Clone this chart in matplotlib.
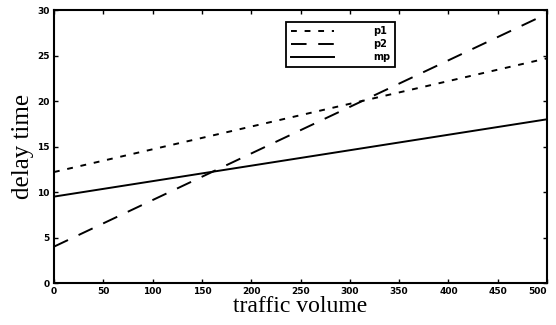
import matplotlib.pyplot as plt

# traffic volume vs delay time, three strategies
volume = [0, 500]
p1 = [12.2, 24.7]
p2 = [4.0, 29.6]
mp = [9.5, 18.0]

xticks = [0, 50, 100, 150, 200, 250, 300, 350, 400, 450, 500]
yticks = [0, 5, 10, 15, 20, 25, 30]

fig = plt.figure(figsize=(5.56, 3.25), dpi=100)
ax = fig.add_axes([0.097, 0.129, 0.887, 0.84])

ax.plot(volume, p1, color='black', lw=1.4, linestyle=(0, (3, 4)), label='p1')
ax.plot(volume, p2, color='black', lw=1.4, linestyle=(0, (8, 6)), label='p2')
ax.plot(volume, mp, color='black', lw=1.4, label='mp')

ax.set_xlim(0, 500)
ax.set_ylim(0, 30)
ax.set_xticks(xticks)
ax.set_yticks(yticks)
ax.tick_params(direction='in', top=True, right=True, length=3, width=1,
               labelsize=6.5, pad=3)
ax.get_xticklabels()[-1].set_horizontalalignment('right')
for lab in ax.get_xticklabels() + ax.get_yticklabels():
    lab.set_fontweight('bold')
for s in ax.spines.values():
    s.set_linewidth(1.5)

ax.set_xlabel('traffic volume', family='Liberation Serif', fontsize=17, labelpad=0)
ax.set_ylabel('delay time', family='Liberation Serif', fontsize=18, labelpad=2)

leg = ax.legend(loc='upper left', bbox_to_anchor=(0.47, 0.958), borderaxespad=0,
                fancybox=False, edgecolor='black', framealpha=1,
                handlelength=4.5, handletextpad=4, borderpad=0.5,
                labelspacing=0.3, prop={'weight': 'bold', 'size': 7})
leg.get_frame().set_linewidth(1.3)

fig.savefig('out.png', dpi=100)
